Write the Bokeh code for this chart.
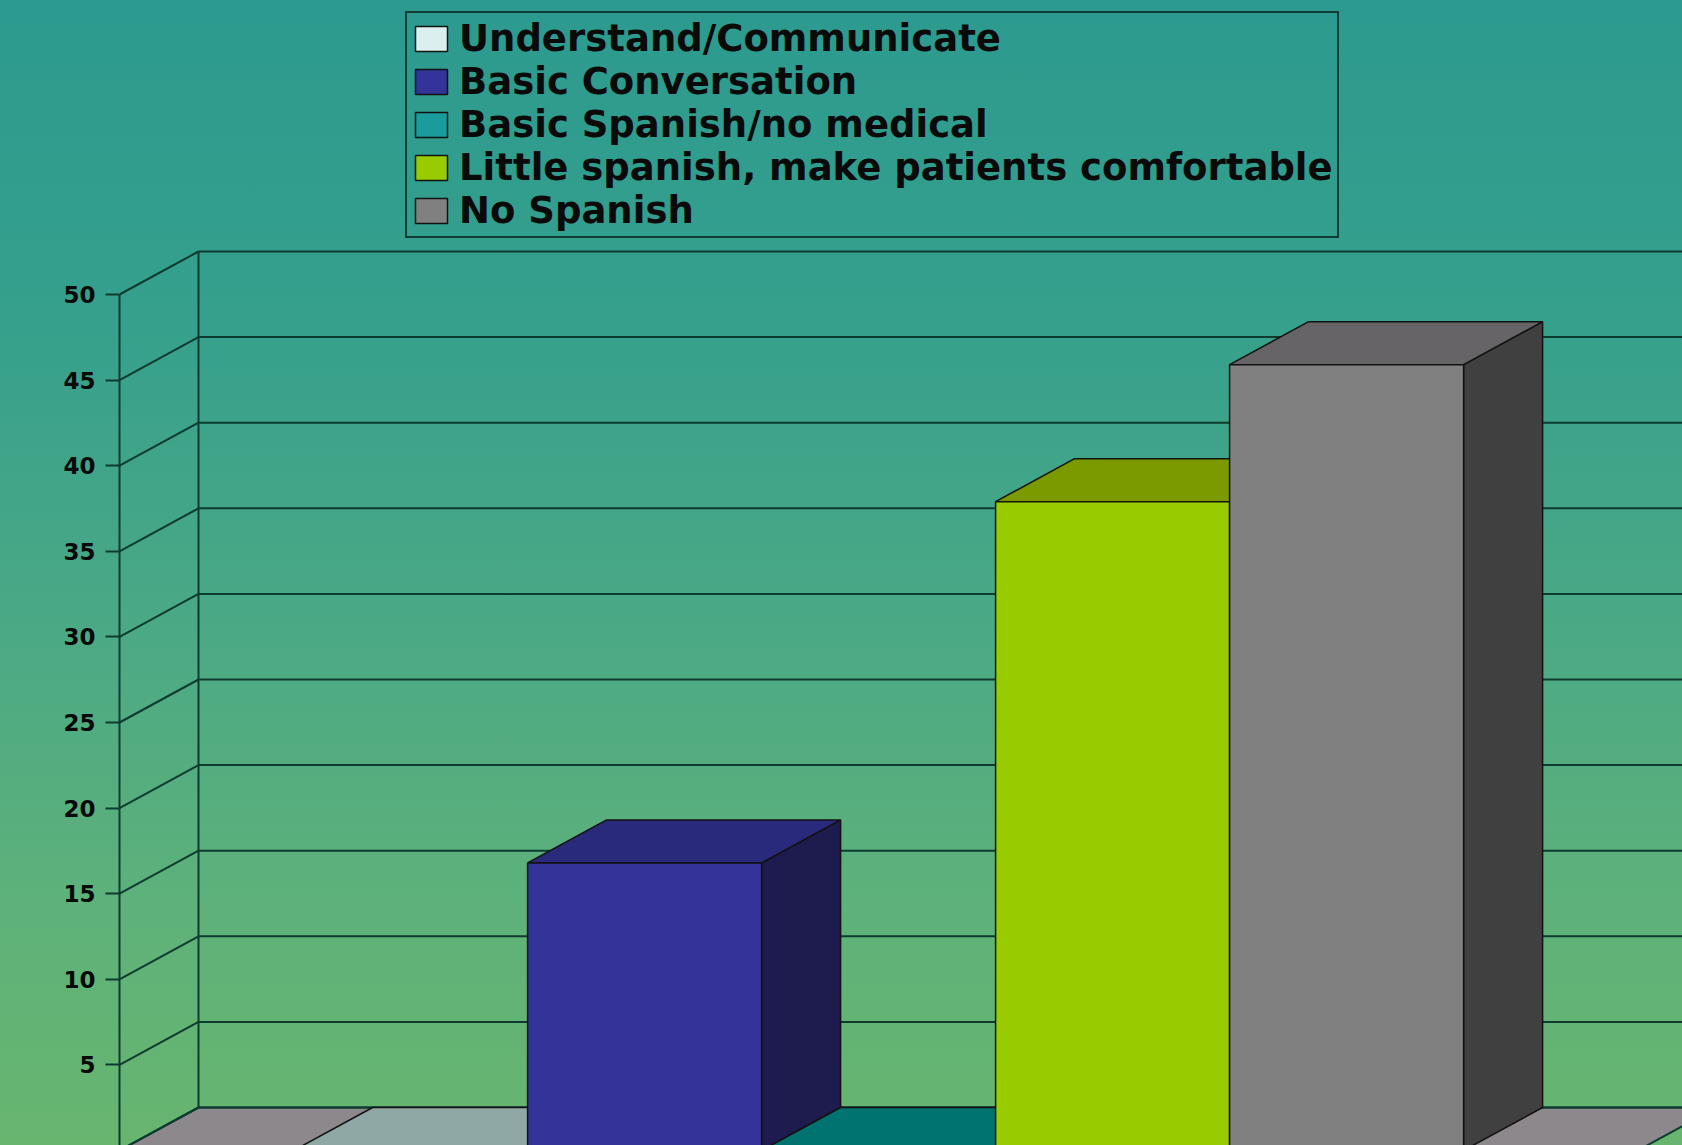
from bokeh.plotting import figure
from bokeh.models import Range1d, FixedTicker, Legend, LegendItem, InlineStyleSheet
from bokeh.embed import file_html
from bokeh.resources import INLINE

# ---------------- data ----------------
SERIES = [
    "Understand/Communicate",
    "Basic Conversation",
    "Basic Spanish/no medical",
    "Little spanish, make patients comfortable",
    "No Spanish",
]
VALUES = [0.0, 16.8, 0.0, 37.9, 45.9]
Y_TICKS = [0, 5, 10, 15, 20, 25, 30, 35, 40, 45, 50]

# ---------------- styles ----------------
FRONT_COLORS = ["#dcefef", "#333399", "#1a9c9c", "#99cc00", "#808080"]
TOP_COLORS = ["#8fa8a6", "#2a2a7c", "#007370", "#7a9a00", "#666466"]
SIDE_COLORS = ["#6a8080", "#1e1c4e", "#005050", "#5a7000", "#404040"]
EDGE = "#121212"
GRID = "#0e3b30"
FLOOR = "#8c888c"

W, H = 1682, 1145
LEFT = 119            # front axis line position
BAR_PX = 234.0        # pixel width of one bar
PX_PER_UNIT = 17.12   # vertical pixels per value unit
ZERO_BELOW = 5.0      # zero line lies this many px below the picture
GAP = 0.744           # side gap, in bar widths
DX = 79 / BAR_PX      # depth offset (x)
DY = 43 / PX_PER_UNIT # depth offset (y)

x_start = -GAP
x_end = x_start + (W - LEFT) / BAR_PX
y_start = ZERO_BELOW / PX_PER_UNIT
y_end = y_start + H / PX_PER_UNIT
XF = len(VALUES) + GAP

p = figure(width=W, height=H, output_backend="svg", toolbar_location=None,
           x_range=Range1d(x_start, x_end), y_range=Range1d(y_start, y_end),
           x_axis_location=None, min_border_left=LEFT, min_border_right=0,
           min_border_top=0, min_border_bottom=0)
p.grid.visible = False
p.background_fill_color = None
p.border_fill_color = None
p.outline_line_color = None
p.stylesheets = [InlineStyleSheet(css=":host{background:linear-gradient(180deg,#2c9a8f 0%,#36a08c 28%,#4ba985 55%,#5db17a 78%,#68b56f 100%);}")]
p.styles = {"position": "absolute", "left": "0px", "top": "0px"}

# y axis
ax = p.yaxis[0]
ax.ticker = FixedTicker(ticks=Y_TICKS)
ax.bounds = (Y_TICKS[0], Y_TICKS[-1])
ax.axis_line_color = GRID
ax.axis_line_width = 2
ax.major_tick_line_color = GRID
ax.major_tick_line_width = 2
ax.major_tick_out = 14
ax.major_tick_in = 0
ax.minor_tick_line_color = None
ax.major_label_standoff = 10
ax.major_label_text_font = "DejaVu Sans"
ax.major_label_text_font_style = "bold"
ax.major_label_text_font_size = "23px"
ax.major_label_text_color = "#0a0a0a"

# floor
p.patch([x_start, x_start + DX, XF + DX, XF], [0, DY, DY, 0],
        fill_color=FLOOR, line_color=GRID, line_width=2)

# back wall grid lines
p.segment(x0=[x_start + DX] * len(Y_TICKS), y0=[t + DY for t in Y_TICKS],
          x1=[XF + DX] * len(Y_TICKS), y1=[t + DY for t in Y_TICKS],
          line_color=GRID, line_width=2)
# side wall diagonals
p.segment(x0=[x_start] * len(Y_TICKS), y0=Y_TICKS,
          x1=[x_start + DX] * len(Y_TICKS), y1=[t + DY for t in Y_TICKS],
          line_color=GRID, line_width=2)
# back wall left edge
p.segment(x0=[x_start + DX], y0=[Y_TICKS[0] + DY], x1=[x_start + DX],
          y1=[Y_TICKS[-1] + DY], line_color=GRID, line_width=2)

# bars
items = []
for i, (name, v) in enumerate(zip(SERIES, VALUES)):
    p.patch([i + 1, i + 1, i + 1 + DX, i + 1 + DX], [0, v, v + DY, DY],
            fill_color=SIDE_COLORS[i], line_color=EDGE, line_width=1.5)
    p.patch([i, i + DX, i + 1 + DX, i + 1], [v, v + DY, v + DY, v],
            fill_color=TOP_COLORS[i], line_color=EDGE, line_width=1.5)
    r = p.quad(left=[i], right=[i + 1], bottom=[0], top=[v],
               fill_color=FRONT_COLORS[i], line_color=EDGE, line_width=1.5)
    items.append(LegendItem(label=name, renderers=[r]))

legend = Legend(items=items, location=(286, 907))
legend.border_line_color = "#0f3d35"
legend.border_line_alpha = 1.0
legend.border_line_width = 2
legend.background_fill_alpha = 0
legend.label_text_font = "DejaVu Sans"
legend.label_text_font_style = "bold"
legend.label_text_font_size = "37px"
legend.label_text_color = "#0a0a0a"
legend.glyph_width = 40
legend.glyph_height = 31
legend.label_standoff = 8
legend.padding = 4
legend.spacing = 0
legend.margin = 0
p.add_layout(legend)

open("out.html", "w").write(file_html(p, INLINE))
